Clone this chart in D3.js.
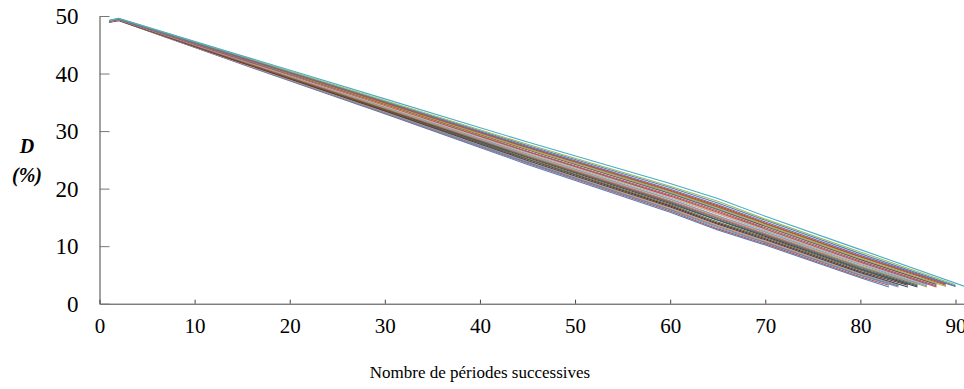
<!DOCTYPE html>
<html>
<head>
<meta charset="utf-8">
<script src="https://cdn.jsdelivr.net/npm/d3@7"></script>
<style>
    body { margin: 0; background: #fff; }
    text { font-family: "Liberation Serif", "Times New Roman", Times, serif; fill: #000; }
</style>
</head>
<body>
<script>
var knots = [1, 2, 15, 30, 45, 60, 65, 70, 80];

// D (%) read at the knots, one row per simulation run, bottom of the bundle first
var runs = [
    [48.9, 49.2, 41.6, 33.0, 24.2, 15.9, 12.8, 10.2, 4.5],
    [48.9, 49.2, 41.7, 33.1, 24.4, 16.1, 13.0, 10.4, 4.7],
    [49.0, 49.3, 41.7, 33.2, 24.5, 16.3, 13.2, 10.6, 4.9],
    [48.9, 49.3, 41.8, 33.3, 24.6, 16.4, 13.4, 10.7, 5.0],
    [49.0, 49.3, 41.8, 33.3, 24.7, 16.5, 13.5, 10.8, 5.1],
    [49.0, 49.3, 41.8, 33.4, 24.8, 16.6, 13.6, 10.9, 5.2],
    [49.0, 49.3, 41.9, 33.5, 24.9, 16.8, 13.8, 11.1, 5.4],
    [49.0, 49.3, 41.9, 33.6, 25.1, 17.0, 14.0, 11.3, 5.6],
    [49.0, 49.3, 42.0, 33.7, 25.2, 17.2, 14.2, 11.5, 5.8],
    [49.0, 49.3, 42.1, 33.8, 25.4, 17.4, 14.5, 11.7, 6.0],
    [49.0, 49.3, 42.1, 33.9, 25.5, 17.6, 14.6, 11.9, 6.1],
    [49.0, 49.3, 42.1, 33.9, 25.6, 17.7, 14.8, 12.0, 6.3],
    [49.0, 49.4, 42.2, 34.0, 25.7, 17.8, 14.9, 12.1, 6.4],
    [49.0, 49.4, 42.2, 34.0, 25.8, 17.9, 15.0, 12.2, 6.5],
    [49.0, 49.4, 42.3, 34.1, 25.9, 18.1, 15.2, 12.4, 6.6],
    [49.0, 49.4, 42.3, 34.2, 26.0, 18.2, 15.3, 12.5, 6.8],
    [49.1, 49.4, 42.4, 34.3, 26.2, 18.4, 15.6, 12.7, 7.0],
    [49.1, 49.4, 42.4, 34.4, 26.3, 18.6, 15.7, 12.9, 7.1],
    [49.1, 49.4, 42.4, 34.5, 26.4, 18.7, 15.9, 13.0, 7.2],
    [49.1, 49.4, 42.5, 34.6, 26.5, 18.9, 16.1, 13.2, 7.4],
    [49.1, 49.5, 42.6, 34.6, 26.7, 19.1, 16.3, 13.4, 7.6],
    [49.1, 49.5, 42.6, 34.7, 26.8, 19.2, 16.4, 13.5, 7.7],
    [49.1, 49.5, 42.6, 34.8, 26.9, 19.3, 16.5, 13.6, 7.8],
    [49.1, 49.5, 42.7, 34.8, 26.9, 19.4, 16.7, 13.7, 7.9],
    [49.1, 49.5, 42.7, 34.9, 27.1, 19.6, 16.8, 13.9, 8.1],
    [49.1, 49.5, 42.7, 35.0, 27.2, 19.7, 17.0, 14.0, 8.2],
    [49.1, 49.5, 42.8, 35.1, 27.3, 19.9, 17.2, 14.2, 8.4],
    [49.2, 49.5, 42.9, 35.2, 27.5, 20.2, 17.5, 14.5, 8.7],
    [49.2, 49.6, 43.0, 35.3, 27.7, 20.4, 17.8, 14.7, 9.0],
    [49.2, 49.6, 43.1, 35.6, 28.1, 20.9, 18.3, 15.2, 9.4]
];

// last period reached by each run and its final D value
var endPeriods = [83, 83, 84, 84, 84, 84, 85, 85, 85, 86, 86, 86, 86, 86, 87, 87, 87, 87, 88, 88, 88, 88, 88, 89, 89, 89, 90, 90, 90, 91];
var endValues  = [2.9, 3.2, 2.9, 3.1, 3.2, 3.3, 2.9, 3.2, 3.4, 2.9, 3.1, 3.3, 3.4, 3.5, 2.9, 3.1, 3.3, 3.5, 2.9, 3.1, 3.3, 3.4, 3.5, 3.0, 3.2, 3.4, 3.0, 3.1, 3.3, 3.0];

var seriesColors = [
    "#4F81BD", "#C0504D", "#729ACA", "#8064A2", "#4BACC6", "#F79646",
    "#2C4D75", "#772C2A", "#5F7530", "#4D3B62", "#276A7C", "#B65708",
    "#4F81BD", "#CD7371", "#9BBB59", "#A18CBB", "#75BFD3", "#F9AB6B",
    "#C0504D", "#8064A2", "#F79646", "#772C2A", "#4BACC6", "#9BBB59",
    "#C0504D", "#B65708", "#8064A2", "#4F81BD", "#9BBB59", "#4BACC6"
];

var xTicks = [0, 10, 20, 30, 40, 50, 60, 70, 80, 90];
var yTicks = [0, 10, 20, 30, 40, 50];

var W = 964, H = 389;
var serif = "'Liberation Serif', 'Times New Roman', Times, serif";

var x = d3.scaleLinear()
    .domain([0, 91])
    .range([99.5, 965]);

var y = d3.scaleLinear()
    .domain([0, 50])
    .range([303.7, 16]);

var svg = d3.select("body").append("svg")
    .attr("width", W)
    .attr("height", H);

var data = runs.map(function(r, i) {
    var pts = r.map(function(v, j) { return { p: knots[j], d: v }; })
        .filter(function(pt) { return pt.p < endPeriods[i]; });
    pts.push({ p: endPeriods[i], d: endValues[i] });
    return { color: seriesColors[i], points: pts };
});

var line = d3.line()
    .x(function(d) { return x(d.p); })
    .y(function(d) { return y(d.d); });

svg.selectAll(".run")
    .data(data)
    .enter()
    .append("path")
    .attr("class", "run")
    .attr("fill", "none")
    .attr("stroke", function(d) { return d.color; })
    .attr("stroke-width", 1.1)
    .attr("d", function(d) { return line(d.points); });

// axes: ticks point into the plot, like the original spreadsheet chart
var xAxis = d3.axisBottom(x)
    .tickValues(xTicks)
    .tickSizeInner(-4)
    .tickSizeOuter(0)
    .tickPadding(14);

var yAxis = d3.axisLeft(y)
    .tickValues(yTicks)
    .tickSizeInner(-10)
    .tickSizeOuter(0)
    .tickPadding(21);

var gx = svg.append("g")
    .attr("transform", "translate(0," + y(0) + ")")
    .call(xAxis);
gx.attr("font-family", null);
gx.select(".domain").attr("stroke", "#444");
gx.selectAll(".tick line").attr("stroke", "#444");
gx.selectAll(".tick text")
    .style("font-family", serif)
    .style("font-size", "21px");

var gy = svg.append("g")
    .attr("transform", "translate(" + x(0) + ",0)")
    .call(yAxis);
gy.attr("font-family", null);
gy.select(".domain").attr("stroke", "#444");
gy.selectAll(".tick line").attr("stroke", "#777");
gy.selectAll(".tick text")
    .style("font-family", serif)
    .style("font-size", "23px")
    .attr("dy", "0.34em");

svg.append("text")
    .attr("x", 480)
    .attr("y", 378)
    .style("text-anchor", "middle")
    .style("font-family", serif)
    .style("font-size", "17px")
    .text("Nombre de périodes successives");

svg.append("text")
    .attr("x", 27)
    .attr("y", 153)
    .style("text-anchor", "middle")
    .style("font-family", serif)
    .style("font-size", "20px")
    .style("font-weight", "bold")
    .style("font-style", "italic")
    .text("D");

svg.append("text")
    .attr("x", 27)
    .attr("y", 182)
    .style("text-anchor", "middle")
    .style("font-family", serif)
    .style("font-size", "20px")
    .style("font-weight", "bold")
    .style("font-style", "italic")
    .text("(%)");
</script>
</body>
</html>
